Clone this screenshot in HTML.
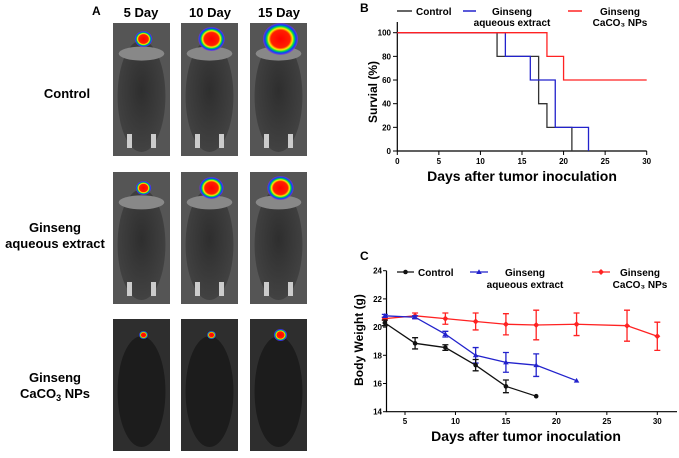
<!DOCTYPE html>
<html><head><meta charset="utf-8"><style>
body{margin:0;background:#fff;width:679px;height:453px;overflow:hidden;font-family:"Liberation Sans",Arial,sans-serif}
svg text{font-family:"Liberation Sans",Arial,sans-serif;font-weight:bold}
</style></head><body>
<svg id="fig" width="679" height="453" viewBox="0 0 679 453" xmlns="http://www.w3.org/2000/svg">
<defs>
<radialGradient id="body" cx="50%" cy="45%" r="60%"><stop offset="0" stop-color="#2e2e2e"/><stop offset="1" stop-color="#444"/></radialGradient>
<radialGradient id="blob" cx="50%" cy="50%" r="50%"><stop offset="0" stop-color="#ff0000"/><stop offset="0.55" stop-color="#ff2000"/><stop offset="0.68" stop-color="#ffee00"/><stop offset="0.78" stop-color="#00dd44"/><stop offset="0.88" stop-color="#0044ff"/><stop offset="1" stop-color="#8a2be2" stop-opacity="0.7"/></radialGradient>
</defs>
<text x="92" y="15" font-size="12">A</text>
<text x="141" y="17" font-size="13" text-anchor="middle">5 Day</text>
<text x="210" y="17" font-size="13" text-anchor="middle">10 Day</text>
<text x="279" y="17" font-size="13" text-anchor="middle">15 Day</text>
<text x="67" y="98" font-size="13" text-anchor="middle">Control</text>
<text x="55" y="232" font-size="13" text-anchor="middle">Ginseng</text>
<text x="55" y="248" font-size="13" text-anchor="middle">aqueous extract</text>
<text x="55" y="382" font-size="13" text-anchor="middle">Ginseng</text>
<text x="55" y="398" font-size="13" text-anchor="middle">CaCO<tspan font-size="9" dy="3">3</tspan><tspan dy="-3"> NPs</tspan></text>
<g id="mice"></g>

<text x="360" y="12" font-size="12">B</text>
<g id="chartB"></g>
<text x="360" y="260" font-size="12">C</text>
<g id="chartC"></g>
</svg>
<script>
const NS='http://www.w3.org/2000/svg';
function mk(p,t,a){const e=document.createElementNS(NS,t);for(const k in a)e.setAttribute(k,a[k]);p.appendChild(e);return e;}
const colX=[113,181,250];const rowY=[[23,156],[172,304],[319,451]];
const blobR=[[8,12,16],[7,11,12],[4,4,6]];
const bgCol=['#555','#555','#2e2e2e'];
const mice=document.getElementById('mice');
rowY.forEach((r,ri)=>colX.forEach((x,ci)=>{
 const g=mk(mice,'g',{});
 
 
 const w=57,h=r[1]-r[0];
 mk(g,'rect',{x:x,y:r[0],width:w,height:h,fill:bgCol[ri]});
 mk(g,'ellipse',{cx:x+w/2,cy:r[0]+h*0.55,rx:w*0.42,ry:h*0.42,fill:ri==2?'#1c1c1c':'url(#body)'});
 if(ri<2){mk(g,'rect',{x:x+14,y:r[1]-22,width:5,height:14,fill:'#ccc'});mk(g,'rect',{x:x+38,y:r[1]-22,width:5,height:14,fill:'#ccc'});
 mk(g,'ellipse',{cx:x+w/2,cy:r[0]+h*0.23,rx:w*0.4,ry:7,fill:'#888'});}
 const br=blobR[ri][ci];
 mk(g,'ellipse',{cx:x+w/2+2,cy:r[0]+16,rx:br*1.1,ry:br,fill:'url(#blob)'});
}));

const survControl=[[0,100],[12,80],[17,40],[18,20],[21,0]];
const survAqueous=[[0,100],[13,80],[16,60],[19,20],[23,0]];
const survCaco3=[[0,100],[18,80],[20,60],[30,60]];
const survEnd=[21,23,30];
const bXTicks=[0,5,10,15,20,25,30];
const bYTicks=[0,20,40,60,80,100];
(function(){
 const g=document.getElementById('chartB');
 const xs=d=>397.3+d*(646.7-397.3)/30, ys=v=>151-v*(151-32.7)/100;
 const ax=mk(g,'path',{d:`M397.3,22V151H646.7`,stroke:'#000','stroke-width':1.2,fill:'none'});
 
 bXTicks.forEach(t=>{mk(g,'line',{x1:xs(t),x2:xs(t),y1:151,y2:155,stroke:'#000'});const tx=mk(g,'text',{x:xs(t),y:164,'font-size':8,'text-anchor':'middle'});tx.textContent=t;});
 bYTicks.forEach(t=>{mk(g,'line',{x1:393,x2:397.3,y1:ys(t),y2:ys(t),stroke:'#000'});const tx=mk(g,'text',{x:391,y:ys(t)+3,'font-size':8,'text-anchor':'end'});tx.textContent=t;});
 const yl=mk(g,'text',{x:0,y:0,'font-size':12,'text-anchor':'middle',transform:'translate(377,92) rotate(-90)'});yl.textContent='Survial (%)';
 const xl=mk(g,'text',{x:522,y:181,'font-size':14,'text-anchor':'middle'});xl.textContent='Days after tumor inoculation';
 const series=[[survControl,'#333',survEnd[0]],[survAqueous,'#2222cc',survEnd[1]],[survCaco3,'#ff2222',survEnd[2]]];
 const names=['b-line-control','b-line-aqueous','b-line-caco3'];
 series.forEach((s,i)=>{let d='';const pts=s[0];
  pts.forEach((p,j)=>{if(j==0)d+=`M${xs(p[0])},${ys(p[1])}`;else d+=`H${xs(p[0])}V${ys(p[1])}`;});
  d+=`H${xs(s[2])}`;
  const l=mk(g,'path',{d:d,stroke:s[1],'stroke-width':1.3,fill:'none'});});
 const lg=[['Control','#333',[null]],['Ginseng','#2222cc',['aqueous extract']],['Ginseng','#ff2222',['CaCO₃ NPs']]];
 const lx=[[397,412,416],[463,476,512],[568,582,620]];
 lg.forEach((e,i)=>{const gg=mk(g,'g',{});
  mk(gg,'line',{x1:lx[i][0],x2:lx[i][1],y1:11,y2:11,stroke:e[1],'stroke-width':1.5});
  const t=mk(gg,'text',{x:lx[i][2],y:15,'font-size':10,'text-anchor':i==0?'start':'middle'});t.textContent=e[0];
  if(e[2][0]){const t2=mk(gg,'text',{x:lx[i][2],y:26,'font-size':10,'text-anchor':'middle'});t2.textContent=e[2][0];}
 });
})();

const cDaysControl=[3,6,9,12,15,18];
const cControl=[20.3,18.85,18.55,17.3,15.8,15.1];
const cControlErr=[0.2,0.4,0.2,0.4,0.45,0];
const cDaysAqueous=[3,6,9,12,15,18,22];
const cAqueous=[20.8,20.7,19.5,18.0,17.5,17.3,16.2];
const cAqueousErr=[0.1,0.1,0.2,0.55,0.7,0.8,0];
const cDaysCaco3=[3,6,9,12,15,18,22,27,30];
const cCaco3=[20.6,20.8,20.6,20.4,20.2,20.15,20.2,20.1,19.35];
const cCaco3Err=[0.1,0.2,0.4,0.6,0.75,1.05,0.8,1.1,1.0];
const cXTicks=[5,10,15,20,25,30];
const cYTicks=[14,16,18,20,22,24];
(function(){
 const g=document.getElementById('chartC');
 const xs=d=>405+(d-5)*(657.3-405)/25, ys=v=>411.7-(v-14)*(411.7-270.7)/10;
 const ax=mk(g,'path',{d:`M386.5,270.7V411.7H677`,stroke:'#000','stroke-width':1.2,fill:'none'});
 
 cXTicks.forEach(t=>{mk(g,'line',{x1:xs(t),x2:xs(t),y1:411.7,y2:415,stroke:'#000'});const tx=mk(g,'text',{x:xs(t),y:424,'font-size':8,'text-anchor':'middle'});tx.textContent=t;});
 cYTicks.forEach(t=>{mk(g,'line',{x1:383,x2:386.5,y1:ys(t),y2:ys(t),stroke:'#000'});const tx=mk(g,'text',{x:382,y:ys(t)+3,'font-size':8,'text-anchor':'end'});tx.textContent=t;});
 const yl=mk(g,'text',{x:0,y:0,'font-size':12,'text-anchor':'middle',transform:'translate(363,340) rotate(-90)'});yl.textContent='Body Weight (g)';
 const xl=mk(g,'text',{x:526,y:441,'font-size':14,'text-anchor':'middle'});xl.textContent='Days after tumor inoculation';
 const series=[[cDaysCaco3,cCaco3,cCaco3Err,'#ff2222','d','c-series-caco3'],[cDaysAqueous,cAqueous,cAqueousErr,'#2222cc','t','c-series-aqueous'],[cDaysControl,cControl,cControlErr,'#111','c','c-series-control']];
 series.forEach(s=>{const gg=mk(g,'g',{});
  mk(gg,'polyline',{points:s[0].map((d,i)=>xs(d)+','+ys(s[1][i])).join(' '),stroke:s[3],'stroke-width':1.3,fill:'none'});
  s[0].forEach((d,i)=>{const x=xs(d),y=ys(s[1][i]),e=s[2][i];
   if(e>0){mk(gg,'path',{d:`M${x},${ys(s[1][i]+e)}V${ys(s[1][i]-e)}M${x-3},${ys(s[1][i]+e)}h6M${x-3},${ys(s[1][i]-e)}h6`,stroke:s[3],'stroke-width':1.3,fill:'none'});}
   let m;
   if(s[4]=='c')m=mk(gg,'circle',{cx:x,cy:y,r:2.3,fill:s[3]});
   else if(s[4]=='t')m=mk(gg,'path',{d:`M${x},${y-2.8}L${x+2.8},${y+2}L${x-2.8},${y+2}Z`,fill:s[3]});
   else m=mk(gg,'path',{d:`M${x},${y-3}L${x+3},${y}L${x},${y+3}L${x-3},${y}Z`,fill:s[3]});
   
  });});
 const lg=[['Control','#111','c',[397,414],418,null],['Ginseng','#2222cc','t',[470,488],525,'aqueous extract'],['Ginseng','#ff2222','d',[592,610],640,'CaCO₃ NPs']];
 lg.forEach(e=>{const gg=mk(g,'g',{});
  const y=272;mk(gg,'line',{x1:e[3][0],x2:e[3][1],y1:y,y2:y,stroke:e[1],'stroke-width':1.3});
  const cx=(e[3][0]+e[3][1])/2;
  if(e[2]=='c')mk(gg,'circle',{cx:cx,cy:y,r:2.3,fill:e[1]});else if(e[2]=='t')mk(gg,'path',{d:`M${cx},${y-2.8}L${cx+2.8},${y+2}L${cx-2.8},${y+2}Z`,fill:e[1]});else mk(gg,'path',{d:`M${cx},${y-3}L${cx+3},${y}L${cx},${y+3}L${cx-3},${y}Z`,fill:e[1]});
  const t=mk(gg,'text',{x:e[4],y:276,'font-size':10,'text-anchor':e[5]?'middle':'start'});t.textContent=e[0];
  if(e[5]){const t2=mk(gg,'text',{x:e[4],y:288,'font-size':10,'text-anchor':'middle'});t2.textContent=e[5];}
 });
})();
</script>
</body></html>
